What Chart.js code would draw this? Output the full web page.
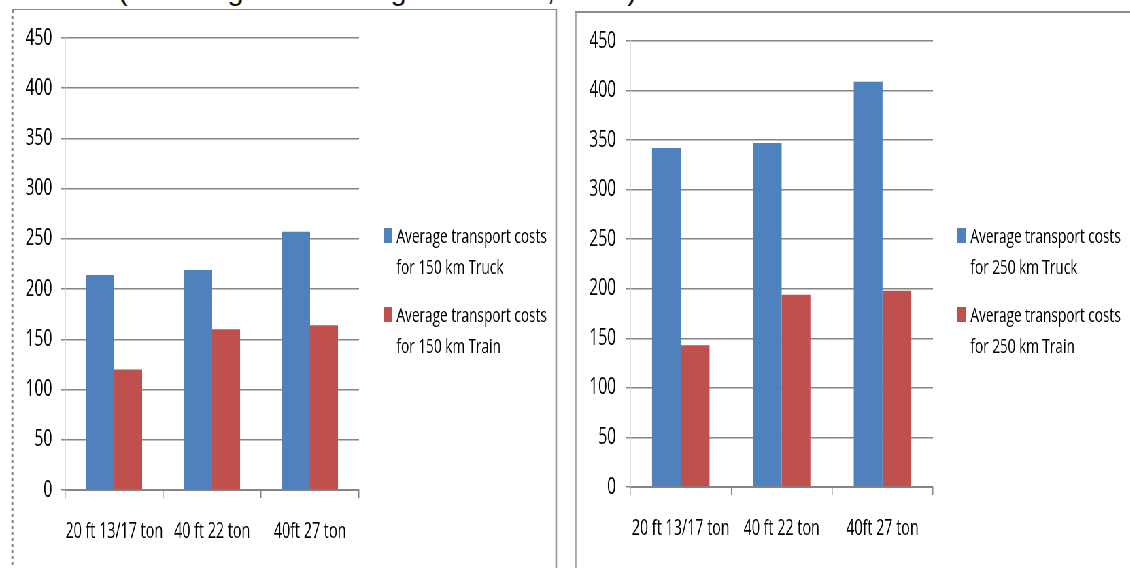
<!DOCTYPE html>
<html lang="en">
<head>
    <meta charset="UTF-8">
    <title>Average transport costs</title>
    <script src="https://cdn.jsdelivr.net/npm/chart.js"></script>
    <style>
        body { margin: 0; width: 1130px; height: 568px; overflow: hidden; background: #fff; position: relative; }
        #source { position: absolute; left: 10px; top: -26px; font: 29px "Liberation Sans", Arial, sans-serif; color: #111; white-space: nowrap; }
        /* the whole sheet is drawn narrow, like the condensed original */
        #sheet { position: absolute; left: 0; top: 0; width: 1662px; height: 568px; transform: scaleX(0.68); transform-origin: 0 0; }
        .panel { position: absolute; box-sizing: border-box; background: #fff; }
        #panelA { left: 17px; top: 9px; width: 802px; height: 600px; border-top: 1.5px solid #8a8a8a; border-left: 3px dotted #8a8a8a; border-right: 2px solid #8a8a8a; }
        #panelB { left: 846px; top: 11px; width: 840px; height: 600px; border-top: 2.5px solid #8a8a8a; border-left: 2px solid #8a8a8a; }
        .box { position: absolute; top: 0; height: 568px; }
        #boxA { left: 0; width: 820px; }
        #boxB { left: 847px; width: 815px; }
    </style>
</head>
<body>
<div id="source">Source: (Sea freight vs. rail logistics costs, 2013)</div>
<div id="sheet">
    <div class="panel" id="panelA"></div>
    <div class="panel" id="panelB"></div>
    <div class="box" id="boxA"><canvas id="chart150"></canvas></div>
    <div class="box" id="boxB"><canvas id="chart250"></canvas></div>
</div>
<script>
    const categories = ['20 ft 13/17 ton', '40 ft 22 ton', '40ft 27 ton'];

    const truck150 = [214, 219, 257];
    const train150 = [120, 160, 164];
    const truck250 = [342, 347, 409];
    const train250 = [143, 194, 198];

    const label150 = [['Average transport costs', 'for 150 km Truck'], ['Average transport costs', 'for 150 km Train']];
    const label250 = [['Average transport costs', 'for 250 km Truck'], ['Average transport costs', 'for 250 km Train']];

    const yMax = 450;
    const yStep = 50;

    const blue = '#4F81BD';
    const red = '#C0504D';
    const gridGrey = '#858585';
    const textCol = '#000';
    const font = '"Open Sans", "Noto Sans", sans-serif';

    // legend with two-line labels, drawn to the right of the plot
    const sideLegend = {
        id: 'sideLegend',
        afterDraw(chart, args, opts) {
            const ctx = chart.ctx;
            const right = chart.chartArea.right;
            ctx.save();
            ctx.font = opts.size + 'px ' + font;
            ctx.textBaseline = 'alphabetic';
            chart.data.datasets.forEach((ds, i) => {
                const base = opts.top + i * opts.step;
                ctx.fillStyle = ds.backgroundColor;
                ctx.fillRect(right + opts.gap, base - 15, 13, 15);
                ctx.fillStyle = textCol;
                ds.label.forEach((line, j) => {
                    ctx.fillText(line, right + opts.textGap, base + j * opts.lineHeight);
                });
            });
            ctx.restore();
        }
    };

    function makeChart(id, truck, train, labels, lay) {
        const ctx = document.getElementById(id).getContext('2d');
        return new Chart(ctx, {
            type: 'bar',
            data: {
                labels: categories,
                datasets: [
                    { label: labels[0], data: truck, backgroundColor: blue },
                    { label: labels[1], data: train, backgroundColor: red }
                ]
            },
            options: {
                responsive: true,
                maintainAspectRatio: false,
                animation: false,
                layout: { padding: { left: 0, right: lay.right, top: lay.top, bottom: lay.bottom } },
                datasets: { bar: { barPercentage: 1, categoryPercentage: 0.57 } },
                plugins: {
                    legend: { display: false },
                    tooltip: { enabled: false },
                    sideLegend: { size: 20, top: 243, step: 79, lineHeight: 31, gap: 36, textGap: 55 }
                },
                scales: {
                    x: {
                        grid: { offset: true, drawOnChartArea: false, color: gridGrey, lineWidth: 1.5, tickLength: 8 },
                        border: { color: gridGrey, width: 2 },
                        ticks: { font: { family: font, size: 21 }, color: textCol, padding: 21, maxRotation: 0, autoSkip: false },
                        afterFit: s => { s.height = 70; }
                    },
                    y: {
                        min: 0,
                        max: yMax,
                        ticks: { stepSize: yStep, font: { family: font, size: 23 }, color: textCol, padding: lay.tickPad },
                        grid: { color: gridGrey, lineWidth: 1.5, tickLength: 6 },
                        border: { color: '#bdbdbd', width: 1.5 },
                        afterFit: s => { s.width = lay.yWidth; }
                    }
                }
            },
            plugins: [sideLegend]
        });
    }

    makeChart('chart150', truck150, train150, label150, { right: 292, top: 38, bottom: 8, yWidth: 96, tickPad: 13 });
    makeChart('chart250', truck250, train250, label250, { right: 290, top: 41, bottom: 11, yWidth: 80, tickPad: 15 });
</script>
</body>
</html>
